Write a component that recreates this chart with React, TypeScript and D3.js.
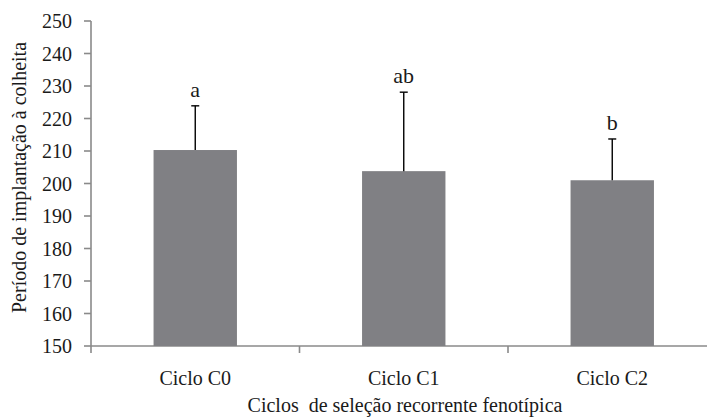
import React from "react";
import { scaleBand, scaleLinear } from "d3";

// ciclos de seleção e médias (dias)
const ciclos = ["Ciclo C0", "Ciclo C1", "Ciclo C2"];
const medias = [210.3, 203.8, 201.0];
const erroSup = [223.9, 228.1, 213.7];
const letras = ["a", "ab", "b"];
const yTicks = [150, 160, 170, 180, 190, 200, 210, 220, 230, 240, 250];

const W = 707;
const H = 417;
const left = 91;
const top = 21;
const base = 346;
const catStep = 208.5;

const App = () => {
  const xCat = scaleBand().domain(ciclos).range([left, left + catStep * ciclos.length]);
  const y = scaleLinear().domain([150, 250]).range([base, top]);
  const bw = xCat.bandwidth() * 0.4;
  const axisColor = "#8a8a8a";

  return (
    <svg width={W} height={H} style={{ position: "absolute", left: 0, top: 0 }} fontFamily="'Liberation Serif'" fill="#1a1a1a">
      <rect width={W} height={H} fill="#fff" />
      {/* eixo y */}
      <line x1={left} x2={left} y1={y(250)} y2={y(150) + 7} stroke={axisColor} strokeWidth={1.6} />
      {yTicks.map((t) => (
        <g key={t}>
          <line x1={left - 7} x2={left} y1={y(t)} y2={y(t)} stroke={axisColor} strokeWidth={1.6} />
          <text x={left - 19} y={y(t)} dy="0.35em" textAnchor="end" fontSize={20}>
            {t}
          </text>
        </g>
      ))}
      {/* eixo x */}
      <line x1={left} x2={W} y1={y(150)} y2={y(150)} stroke={axisColor} strokeWidth={1.6} />
      {ciclos.slice(1).map((c) => (
        <line key={c} x1={xCat(c)} x2={xCat(c)} y1={y(150)} y2={y(150) + 7} stroke={axisColor} strokeWidth={1.6} />
      ))}
      {ciclos.map((c, i) => {
        const cx = xCat(c)! + xCat.bandwidth() / 2;
        return (
          <g key={c}>
            <rect x={cx - bw / 2} y={y(medias[i])} width={bw} height={y(150) - y(medias[i])} fill="#808084" />
            <line x1={cx} x2={cx} y1={y(medias[i])} y2={y(erroSup[i])} stroke="#000" strokeWidth={1.4} />
            <line x1={cx - 4} x2={cx + 4} y1={y(erroSup[i])} y2={y(erroSup[i])} stroke="#000" strokeWidth={1.4} />
            <text x={cx} y={y(erroSup[i]) - 9} textAnchor="middle" fontSize={22}>
              {letras[i]}
            </text>
            <text x={cx} y={385} textAnchor="middle" fontSize={20}>
              {c}
            </text>
          </g>
        );
      })}
      <text x={405} y={412} textAnchor="middle" fontSize={20} style={{ whiteSpace: "pre" }}>
        {"Ciclos  de seleção recorrente fenotípica"}
      </text>
      <text transform={`translate(26,${(y(150) + y(250)) / 2 - 6}) rotate(-90)`} textAnchor="middle" fontSize={20}>
        Período de implantação à colheita
      </text>
    </svg>
  );
};

export default App;
